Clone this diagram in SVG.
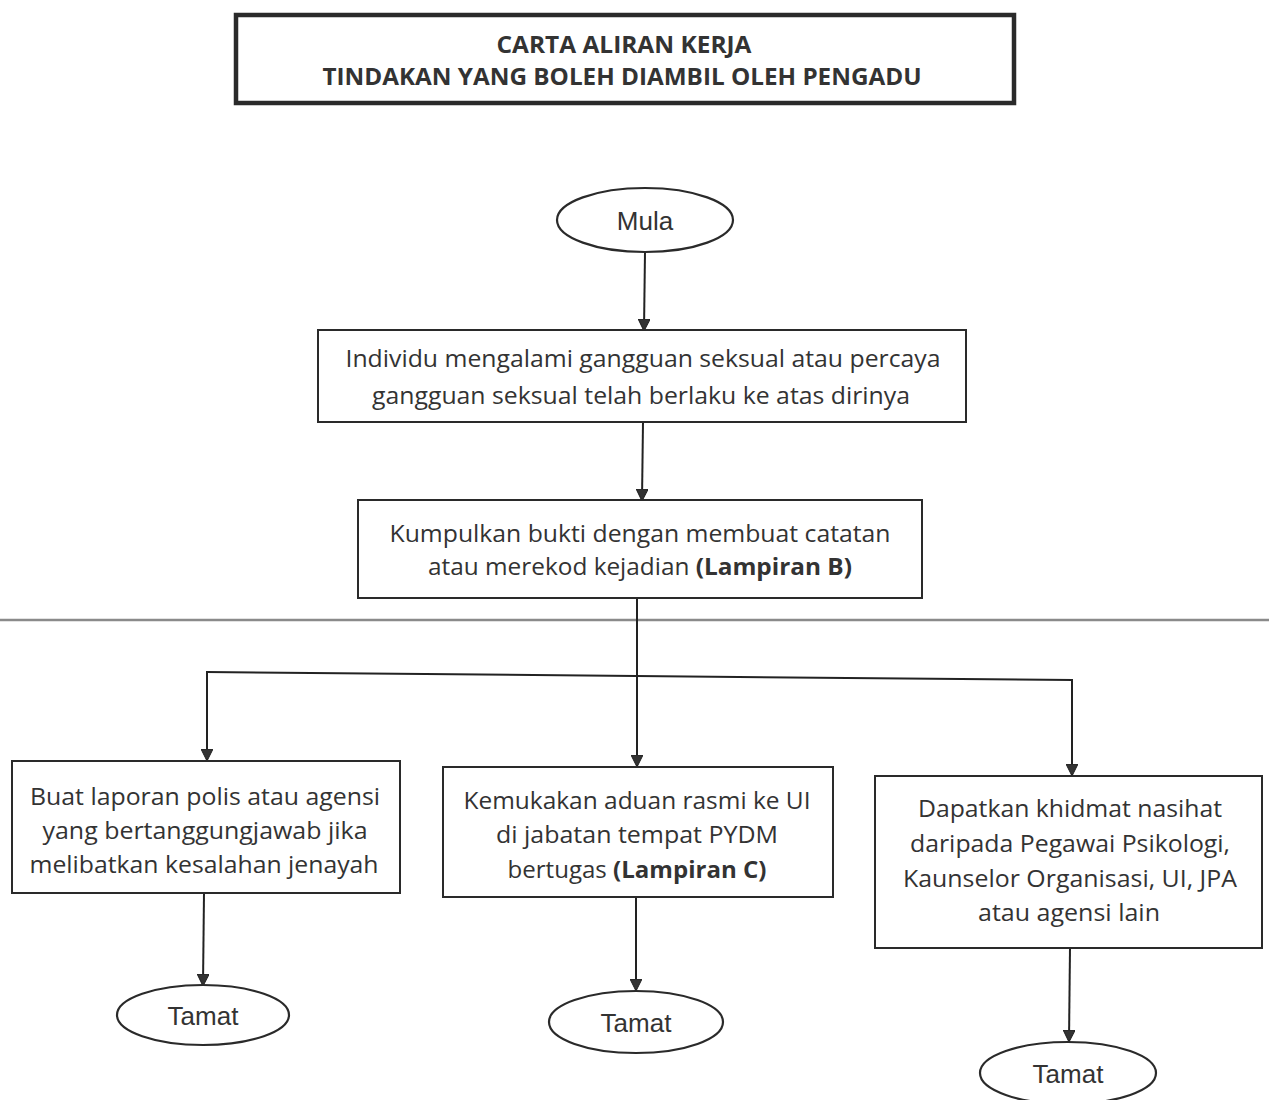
<svg xmlns="http://www.w3.org/2000/svg" width="1269" height="1100" viewBox="0 0 1269 1100">
<defs>
<style>
.box{fill:#fff;stroke:#2a2a2a;stroke-width:2}
.term{fill:#fff;stroke:#2a2a2a;stroke-width:2.2}
.t{font-family:"Open Sans","Noto Sans","Liberation Sans",sans-serif;font-size:23px;fill:#333;text-anchor:middle}
.tt{font-family:"Liberation Sans",Arial,sans-serif;font-size:26px;fill:#333;text-anchor:middle}
.b{font-weight:bold}
.conn{fill:none;stroke:#222;stroke-width:2}
</style>
<marker id="ah" viewBox="0 0 12 12" refX="11" refY="6" markerWidth="12" markerHeight="12" markerUnits="userSpaceOnUse" orient="auto">
<path d="M0,0 L12,6 L0,12 Z" fill="#333" stroke="#222" stroke-width="1"/>
</marker>
</defs>
<rect width="1269" height="1100" fill="#fff"/>

<g id="title">
<rect x="236" y="15" width="778" height="88" fill="#fff" stroke="#2a2a2a" stroke-width="4.5"/>
<text class="t b" x="624" y="53" font-size="24" textLength="255" lengthAdjust="spacingAndGlyphs">CARTA ALIRAN KERJA</text>
<text class="t b" x="622" y="85" font-size="24" textLength="599" lengthAdjust="spacingAndGlyphs">TINDAKAN YANG BOLEH DIAMBIL OLEH PENGADU</text>
</g>

<line x1="0" y1="620" x2="1269" y2="620" stroke="#8a8a8a" stroke-width="2.5"/>

<g id="connectors">
<line class="conn" x1="645" y1="252" x2="644" y2="330" marker-end="url(#ah)"/>
<line class="conn" x1="643" y1="422" x2="642" y2="500" marker-end="url(#ah)"/>
<line class="conn" x1="637" y1="598" x2="637" y2="766" marker-end="url(#ah)"/>
<line class="conn" x1="206" y1="672" x2="1073" y2="680"/>
<line class="conn" x1="207" y1="672" x2="207" y2="760" marker-end="url(#ah)"/>
<line class="conn" x1="1072" y1="680" x2="1072" y2="775" marker-end="url(#ah)"/>
<line class="conn" x1="204" y1="893" x2="203" y2="985" marker-end="url(#ah)"/>
<line class="conn" x1="636" y1="897" x2="636" y2="990" marker-end="url(#ah)"/>
<line class="conn" x1="1070" y1="948" x2="1069" y2="1041" marker-end="url(#ah)"/>
</g>

<g id="mula">
<ellipse class="term" cx="645" cy="220" rx="88" ry="32"/>
<text class="tt" x="645" y="230" font-size="24">Mula</text>
</g>

<g id="step1">
<rect class="box" x="318" y="330" width="648" height="92"/>
<text class="t" x="643" y="367" textLength="595" lengthAdjust="spacingAndGlyphs">Individu mengalami gangguan seksual atau percaya</text>
<text class="t" x="641" y="404" textLength="538" lengthAdjust="spacingAndGlyphs">gangguan seksual telah berlaku ke atas dirinya</text>
</g>

<g id="step2">
<rect class="box" x="358" y="500" width="564" height="98"/>
<text class="t" x="640" y="542" textLength="501" lengthAdjust="spacingAndGlyphs">Kumpulkan bukti dengan membuat catatan</text>
<text class="t" x="640" y="575" textLength="424" lengthAdjust="spacingAndGlyphs">atau merekod kejadian <tspan class="b">(Lampiran B)</tspan></text>
</g>

<g id="opt1">
<rect class="box" x="12" y="761" width="388" height="132"/>
<text class="t" x="205" y="805" textLength="350" lengthAdjust="spacingAndGlyphs">Buat laporan polis atau agensi</text>
<text class="t" x="205" y="839" textLength="325" lengthAdjust="spacingAndGlyphs">yang bertanggungjawab jika</text>
<text class="t" x="204" y="873" textLength="349" lengthAdjust="spacingAndGlyphs">melibatkan kesalahan jenayah</text>
</g>

<g id="opt2">
<rect class="box" x="443" y="767" width="390" height="130"/>
<text class="t" x="637" y="809" textLength="347" lengthAdjust="spacingAndGlyphs">Kemukakan aduan rasmi ke UI</text>
<text class="t" x="637" y="843" textLength="282" lengthAdjust="spacingAndGlyphs">di jabatan tempat PYDM</text>
<text class="t" x="637" y="878" textLength="259" lengthAdjust="spacingAndGlyphs">bertugas <tspan class="b">(Lampiran C)</tspan></text>
</g>

<g id="opt3">
<rect class="box" x="875" y="776" width="387" height="172"/>
<text class="t" x="1070" y="817" textLength="304" lengthAdjust="spacingAndGlyphs">Dapatkan khidmat nasihat</text>
<text class="t" x="1070" y="852" textLength="320" lengthAdjust="spacingAndGlyphs">daripada Pegawai Psikologi,</text>
<text class="t" x="1070" y="887" textLength="334" lengthAdjust="spacingAndGlyphs">Kaunselor Organisasi, UI, JPA</text>
<text class="t" x="1069" y="921" textLength="182" lengthAdjust="spacingAndGlyphs">atau agensi lain</text>
</g>

<g id="end1">
<ellipse class="term" cx="203" cy="1015" rx="86" ry="30"/>
<text class="tt" x="203" y="1025">Tamat</text>
</g>
<g id="end2">
<ellipse class="term" cx="636" cy="1022" rx="87" ry="31"/>
<text class="tt" x="636" y="1032">Tamat</text>
</g>
<g id="end3">
<ellipse class="term" cx="1068" cy="1073" rx="88" ry="31"/>
<text class="tt" x="1068" y="1083">Tamat</text>
</g>
</svg>
